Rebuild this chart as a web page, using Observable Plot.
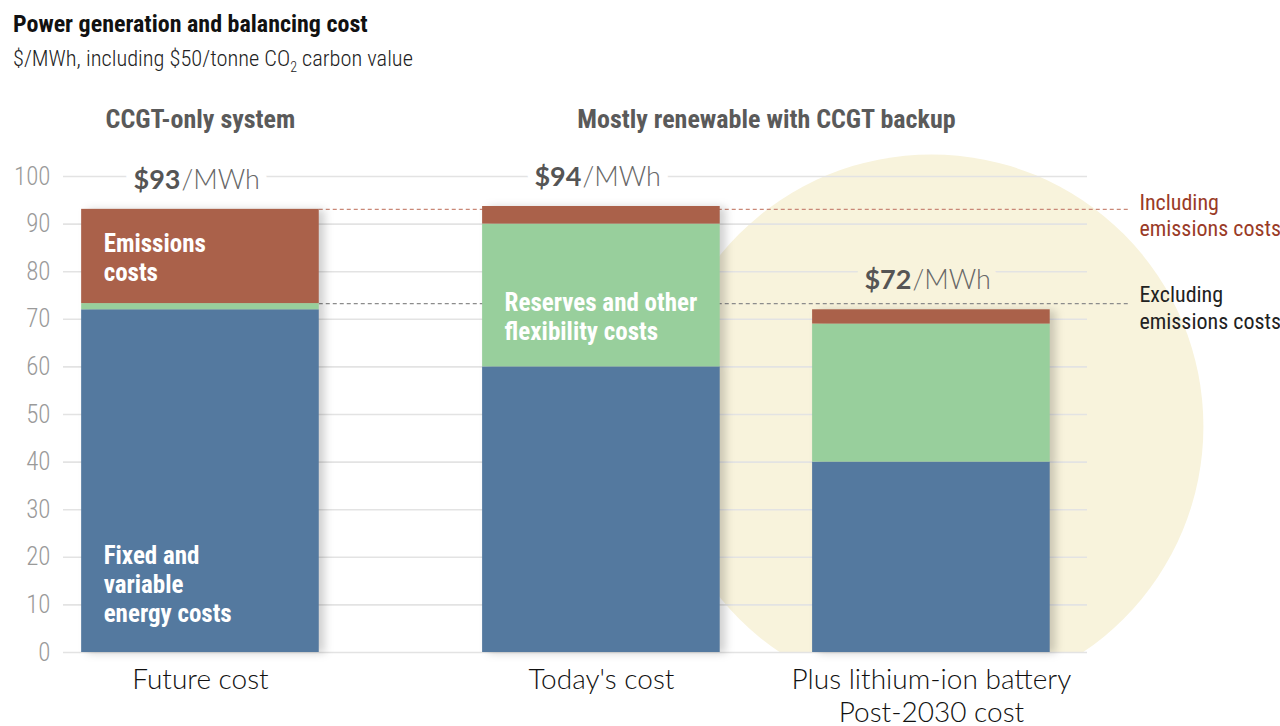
<!DOCTYPE html>
<html>
<head>
<meta charset="utf-8">
<script src="https://cdn.jsdelivr.net/npm/d3@7"></script>
<script src="https://cdn.jsdelivr.net/npm/@observablehq/plot@0.6"></script>
<style>
  body { margin: 0; background: #fff; width: 1280px; height: 726px; overflow: hidden; }
  #head { position: relative; height: 80px; }
  #title { position: absolute; left: 13px; top: 9px; font: bold 24px "Roboto Condensed", sans-serif; color: #111; line-height: 30px; white-space: nowrap; }
  #sub { position: absolute; left: 13px; top: 43px; font: 300 22.4px "Roboto Condensed", sans-serif; color: #222; line-height: 30px; white-space: nowrap; }
  #sub .s { font-size: 14px; position: relative; top: 6px; }
  #chart svg { display: block; overflow: visible; }
</style>
</head>
<body>
<div id="head">
  <div id="title">Power generation and balancing cost</div>
  <div id="sub">$/MWh, including $50/tonne CO<span class="s">2</span> carbon value</div>
</div>
<div id="chart"></div>
<script>
// ---------- data ----------
const categories = ["Future cost", "Today's cost", "Plus lithium-ion battery\nPost-2030 cost"];
const groups = ["CCGT-only system", "Mostly renewable with CCGT backup", "Mostly renewable with CCGT backup"];
const seriesNames = ["Fixed and variable energy costs", "Reserves and other flexibility costs", "Emissions costs"];
const energyCosts = [72, 60, 40];
const flexibilityCosts = [1.3, 30, 29];
const emissionsCosts = [19.8, 3.7, 3];
const yTicks = [0, 10, 20, 30, 40, 50, 60, 70, 80, 90, 100];
const segmentLabels = ["Fixed and\nvariable\nenergy costs", "Reserves and other\nflexibility costs", "Emissions\ncosts"];
const segmentLabelBar = ["Future cost", "Today's cost", "Future cost"];
const segmentLabelY = [14.5, 70.7, 83];
const referenceLabels = ["Including\nemissions costs", "Excluding\nemissions costs"];
const highlightBar = "Plus lithium-ion battery\nPost-2030 cost";
const highlightY = 47.5;

// ---------- styles ----------
const seriesColors = ["#54799f", "#98cf9c", "#aa614a"];
const circleColor = "#f8f3dc";
const narrow = '"Roboto Condensed", sans-serif';
const sans = 'Lato, "Open Sans", sans-serif';
const groupGap = 0.215, half = 0.36, refExtent = 0.6;

// ---------- derived ----------
const uniqueGroups = [...new Set(groups)];
const pos = categories.map((c, i) => i + groupGap * uniqueGroups.indexOf(groups[i]));
const idx = d3.range(categories.length);
const seriesArrays = [energyCosts, flexibilityCosts, emissionsCosts];
const rows = [];
idx.forEach(i => {
  let base = 0;
  seriesArrays.forEach((arr, s) => {
    rows.push({cat: categories[i], series: seriesNames[s], x1: pos[i] - half, x2: pos[i] + half, y1: base, y2: base + arr[i]});
    base += arr[i];
  });
});
const totals = idx.map(i => energyCosts[i] + flexibilityCosts[i] + emissionsCosts[i]);
const hl = categories.indexOf(highlightBar);
const includingValue = totals[0];
const excludingValue = energyCosts[0] + flexibilityCosts[0];
const refEnd = pos[pos.length - 1] + refExtent;
const refStart = pos[0] + half;

const totalCommon = {x: i => pos[i], y: i => totals[i], dy: -29, fontSize: 27, fontFamily: sans, lineAnchor: "middle"};
function haloMarks(ids, halo) {
  return [
    Plot.text(ids, {...totalCommon, text: i => "$" + Math.round(totals[i]), textAnchor: "end", dx: -20, fontWeight: "bold", fill: halo, stroke: halo, strokeWidth: 18}),
    Plot.text(ids, {...totalCommon, text: () => "/MWh", textAnchor: "start", dx: -19, fontWeight: 300, fill: halo, stroke: halo, strokeWidth: 18})
  ];
}
function totalText(ids) {
  return [
    Plot.text(ids, {...totalCommon, text: i => "$" + Math.round(totals[i]), textAnchor: "end", dx: -20, fontWeight: "bold", fill: "#555"}),
    Plot.text(ids, {...totalCommon, text: () => "/MWh", textAnchor: "start", dx: -19, fill: "#666", fontWeight: 300})
  ];
}

const plot = Plot.plot({
  width: 1280, height: 646,
  marginTop: 96, marginBottom: 74, marginLeft: 63, marginRight: 193,
  x: {domain: [-0.415, 2.688], axis: null},
  y: {domain: [0, 100], axis: null},
  color: {domain: seriesNames, range: seriesColors},
  marks: [
    Plot.dot([hl], {x: i => pos[i], y: () => highlightY, r: 272, fill: circleColor}),
    Plot.ruleY(yTicks, {stroke: "#e3e3e3", strokeWidth: 1.6}),
    ...haloMarks(idx.filter(i => i !== hl), "white"),
    ...haloMarks([hl], circleColor),
    ...totalText(idx),
    Plot.ruleY([includingValue], {x1: () => refStart, x2: () => refEnd, stroke: "#c98877", strokeWidth: 1.3, strokeDasharray: "4,3"}),
    Plot.ruleY([excludingValue], {x1: () => refStart, x2: () => refEnd, stroke: "#8c8c8c", strokeWidth: 1.3, strokeDasharray: "4,3"}),
    Plot.rect(rows, {x1: "x1", x2: "x2", y1: "y1", y2: "y2", fill: "series"}),
    Plot.text(d3.range(segmentLabels.length), {
      x: j => pos[categories.indexOf(segmentLabelBar[j])] - half, y: j => segmentLabelY[j],
      text: j => segmentLabels[j], textAnchor: "start", lineAnchor: "middle", dx: 22, fill: "white", fontWeight: "bold",
      fontSize: 25, lineHeight: 1.16, fontFamily: narrow
    }),
    Plot.text(yTicks, {y: d => d, text: d => String(d), frameAnchor: "left", lineAnchor: "middle", dx: -13, textAnchor: "end", fontSize: 25, fontWeight: 300, fill: "#9a9a9a", fontFamily: narrow}),
    Plot.text(idx, {x: i => pos[i], text: i => categories[i], frameAnchor: "bottom", lineAnchor: "top", dy: 13, fontSize: 28, fontWeight: 300, lineHeight: 1.19, fill: "#111", fontFamily: sans}),
    Plot.text(uniqueGroups, {x: g => d3.mean(pos.filter((p, i) => groups[i] === g)), text: g => g, frameAnchor: "top", lineAnchor: "middle", dy: -57, fontSize: 26, fontWeight: "bold", fill: "#5a5a5a", fontFamily: narrow}),
    Plot.text([includingValue], {x: () => refEnd, y: d => d, text: () => referenceLabels[0], textAnchor: "start", lineAnchor: "middle", dx: 10, dy: 5, fontSize: 22, lineHeight: 1.22, fill: "#9a3b27", fontFamily: narrow}),
    Plot.text([excludingValue], {x: () => refEnd, y: d => d, text: () => referenceLabels[1], textAnchor: "start", lineAnchor: "middle", dx: 10, dy: 3, fontSize: 22, lineHeight: 1.22, fill: "#222", fontFamily: narrow})
  ]
});
document.getElementById("chart").appendChild(plot);

// clip the highlight circle at the baseline & add bar shadows
const svg = d3.select(plot);
const yBase = plot.scale("y").apply(0);
const defs = svg.insert("defs", ":first-child");
defs.append("clipPath").attr("id", "baseClip").append("rect")
  .attr("x", 0).attr("y", 0).attr("width", 1280).attr("height", yBase);
svg.selectAll('g[aria-label="dot"]').attr("clip-path", "url(#baseClip)");
svg.selectAll('g[aria-label="rect"]').style("filter", "drop-shadow(6px 1px 4px rgba(0,0,0,0.18))");
</script>
</body>
</html>
